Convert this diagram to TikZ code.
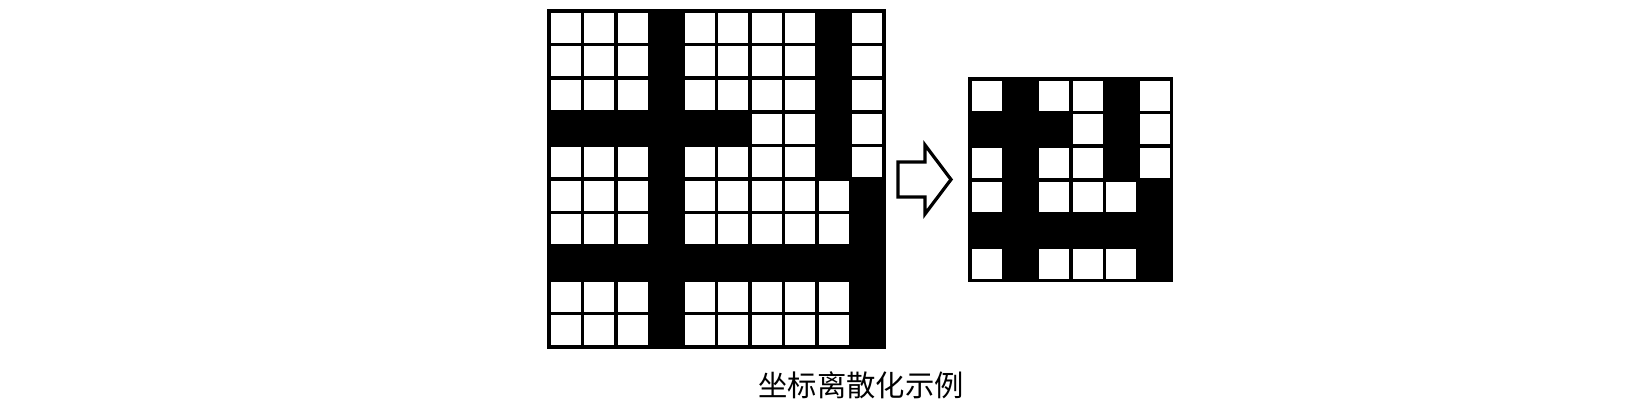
\documentclass[tikz,border=0pt]{standalone}
\usepackage{fontspec}
\newfontfamily\cjk{Noto Sans CJK SC}
\tikzset{
  cellw/.style={draw=black, line width=2.6pt, fill=white},
  cellb/.style={fill=black},
  gridframe/.style={draw=black, line width=2.6pt},
  blockarrow/.style={draw=black, line width=2.4pt, fill=white, line join=miter},
}
\begin{document}
\begin{tikzpicture}[x=0.75pt,y=0.75pt,yscale=-1,xscale=1]
        \useasboundingbox (0,0) rectangle (1650,417);
        % left grid 10x10
        \foreach \row [count=\r from 0] in {{0,0,0,1,0,0,0,0,1,0},{0,0,0,1,0,0,0,0,1,0},{0,0,0,1,0,0,0,0,1,0},{1,1,1,1,1,1,0,0,1,0},{0,0,0,1,0,0,0,0,1,0},{0,0,0,1,0,0,0,0,0,1},{0,0,0,1,0,0,0,0,0,1},{1,1,1,1,1,1,1,1,1,1},{0,0,0,1,0,0,0,0,0,1},{0,0,0,1,0,0,0,0,0,1}}{
          \foreach \v [count=\c from 0] in \row {
            \ifnum\v=1
              \fill[cellb] ({549+33.5*\c},{11+33.6*\r}) rectangle ++(33.5,33.6);
            \else
              \draw[cellw] ({549+33.5*\c},{11+33.6*\r}) rectangle ++(33.5,33.6);
            \fi
          }
        }
        \draw[gridframe] (549,11) rectangle (884,347);
        % right grid 6x6
        \foreach \row [count=\r from 0] in {{0,1,0,0,1,0},{1,1,1,0,1,0},{0,1,0,0,1,0},{0,1,0,0,0,1},{1,1,1,1,1,1},{0,1,0,0,0,1}}{
          \foreach \v [count=\c from 0] in \row {
            \ifnum\v=1
              \fill[cellb] ({970+33.6*\c},{79+33.6*\r}) rectangle ++(33.6,33.6);
            \else
              \draw[cellw] ({970+33.6*\c},{79+33.6*\r}) rectangle ++(33.6,33.6);
            \fi
          }
        }
        \draw[gridframe] (970,79) rectangle (1171.6,280.6);
        % arrow
        \draw[blockarrow] (898,162) -- (925,162) -- (925,145) -- (951,179.5) -- (925,214) -- (925,197) -- (898,197) -- cycle;

        \node[font=\cjk\fontsize{22}{26}\selectfont, inner sep=0.75pt] (caption) at (861,385) {坐标离散化示例};
\end{tikzpicture}
\end{document}
